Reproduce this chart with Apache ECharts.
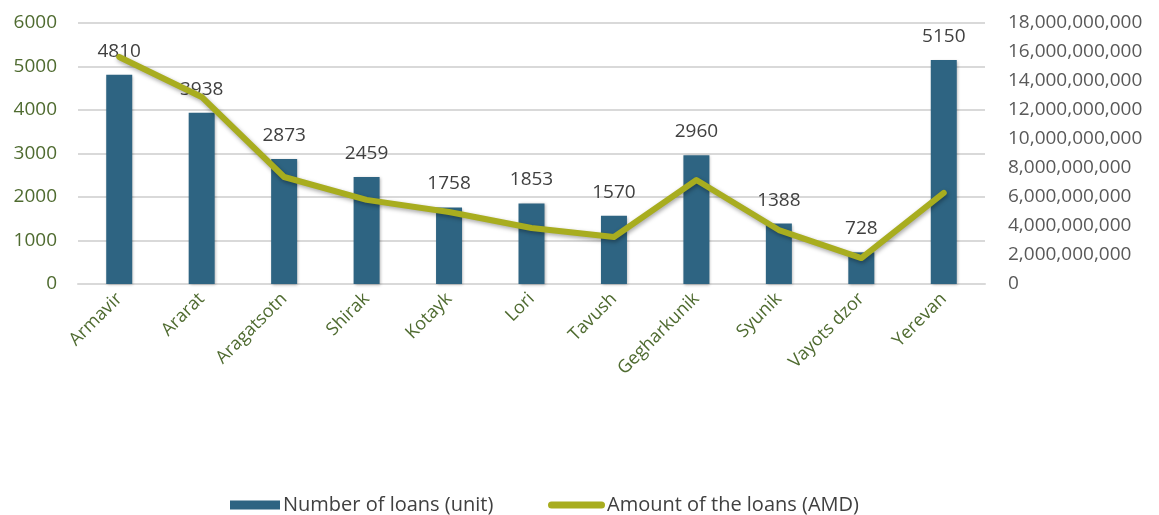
<!DOCTYPE html>
<html><head><meta charset="utf-8">
<script src="https://cdn.jsdelivr.net/npm/echarts@6/dist/echarts.min.js"></script>
<style>html,body{margin:0;padding:0;background:#fff}#c{width:1159px;height:515px}</style>
</head><body><div id="c"></div>
<script>
const categories = ['Armavir','Ararat','Aragatsotn','Shirak','Kotayk','Lori','Tavush','Gegharkunik','Syunik','Vayots dzor','Yerevan'];
const loanCounts = [4810,3938,2873,2459,1758,1853,1570,2960,1388,728,5150];
const loanAmounts = [15.66e9,12.9e9,7.38e9,5.8e9,4.97e9,3.86e9,3.24e9,7.17e9,3.72e9,1.79e9,6.28e9];
const countTicks = {min:0,max:6000,interval:1000};
const amountTicks = {min:0,max:18e9,interval:2e9};
const FONT = '"Open Sans", "Noto Sans", sans-serif';
const chart = echarts.init(document.getElementById('c'));
chart.setOption({
  animation:false,
  textStyle:{fontFamily:FONT},
  grid:{left:78,right:174,top:23,bottom:231},
  legend:[
    {top:490,left:225,itemWidth:50,itemHeight:9,
     textStyle:{fontFamily:FONT,fontSize:20,color:'#404040',padding:[0,0,0,-2]},
     data:[{name:'Number of loans (unit)',icon:'rect'}]},
    {top:490,left:543,itemWidth:57,itemHeight:7,
     itemStyle:{borderWidth:0},
     textStyle:{fontFamily:FONT,fontSize:20,color:'#404040',padding:[0,0,0,-3]},
     data:[{name:'Amount of the loans (AMD)',icon:'path://M3.5,0 L53.5,0 A3.5,3.5 0 0 1 53.5,7 L3.5,7 A3.5,3.5 0 0 1 3.5,0 Z',itemStyle:{color:'#a8ad1f',borderWidth:0}}]}
  ],
  xAxis:{
    type:'category',data:categories,
    axisTick:{show:false},
    axisLine:{lineStyle:{color:'#d9d9d9',width:2}},
    axisLabel:{rotate:45,color:'#4f6b30',fontSize:18,fontFamily:FONT,margin:12,interval:0}
  },
  yAxis:[
    {type:'value',min:countTicks.min,max:countTicks.max,interval:countTicks.interval,
     axisLabel:{color:'#4f6b30',fontSize:19,fontFamily:FONT,margin:21,formatter:v=>String(v)},
     splitLine:{lineStyle:{color:'#d9d9d9',width:2}},axisLine:{show:false},axisTick:{show:false}},
    {type:'value',min:amountTicks.min,max:amountTicks.max,interval:amountTicks.interval,
     axisLabel:{color:'#595959',fontSize:19,fontFamily:FONT,margin:23,
       formatter:v=>Math.round(v).toLocaleString('en-US')},
     splitLine:{show:false},axisLine:{show:false},axisTick:{show:false}}
  ],
  series:[
    {name:'Number of loans (unit)',type:'bar',data:loanCounts,barWidth:26,
     itemStyle:{color:'#2e6482',shadowColor:'rgba(0,0,0,0.3)',shadowBlur:3,shadowOffsetX:1,shadowOffsetY:1},
     label:{show:true,position:'top',distance:14,color:'#404040',fontSize:19,fontFamily:FONT}},
    {name:'Amount of the loans (AMD)',type:'line',yAxisIndex:1,data:loanAmounts,
     symbol:'none',z:5,
     lineStyle:{color:'#a8ad1f',width:6,cap:'round',join:'round',shadowColor:'rgba(0,0,0,0.35)',shadowBlur:4,shadowOffsetX:1,shadowOffsetY:2},
     itemStyle:{color:'#a8ad1f'}}
  ]
});
</script></body></html>
